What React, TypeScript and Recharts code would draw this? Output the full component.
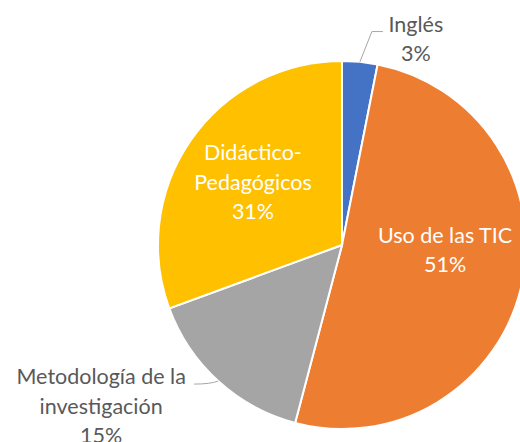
import React from "react";
import { PieChart, Pie, Cell } from "recharts";

const categories = ["Inglés", "Uso de las TIC", "Metodología de la investigación", "Didáctico-Pedagógicos"];
const values = [3.1, 51.0, 15.3, 30.6];
const percentLabels = ["3%", "51%", "15%", "31%"];
const colors = ["#4472C4", "#ED7D31", "#A5A5A5", "#FFC000"];

const data = categories.map((name, i) => ({ name, value: values[i] }));

const RADIAN = Math.PI / 180;
const FONT = "Lato, 'Open Sans', sans-serif";
const FS = 21.5;
const LH = 29.5;

const renderLabel = (props: any) => {
  const { cx, cy, midAngle, outerRadius, index } = props;
  const cos = Math.cos(-midAngle * RADIAN);
  const sin = Math.sin(-midAngle * RADIAN);
  const ex = cx + outerRadius * cos;
  const ey = cy + outerRadius * sin;
  const pct = percentLabels[index];
  if (index === 1) {
    const x = cx + outerRadius * 0.56;
    const y = cy + outerRadius * 0.03;
    return (
      <text x={x} y={y} fill="#fff" textAnchor="middle" fontFamily={FONT} fontSize={FS}>
        <tspan x={x} dy={-LH / 2 + 7}>Uso de las TIC</tspan>
        <tspan x={x} dy={LH}>{pct}</tspan>
      </text>
    );
  }
  if (index === 3) {
    const r = outerRadius * 0.59;
    const x = cx + r * cos;
    const y = cy + r * sin;
    return (
      <text x={x} y={y} fill="#fff" textAnchor="middle" fontFamily={FONT} fontSize={FS}>
        <tspan x={x} dy={-LH + 7}>Didáctico-</tspan>
        <tspan x={x} dy={LH}>Pedagógicos</tspan>
        <tspan x={x} dy={LH}>{pct}</tspan>
      </text>
    );
  }
  if (index === 0) {
    const kx = ex + 12;
    const ky = cy - outerRadius * 1.16;
    const tx = kx + 44;
    return (
      <g>
        <polyline points={`${ex},${ey} ${kx},${ky} ${kx + 11},${ky}`} fill="none" stroke="#A6A6A6" strokeWidth={1} />
        <text x={tx} y={ky} fill="#595959" textAnchor="middle" fontFamily={FONT} fontSize={FS}>
          <tspan x={tx} dy={0}>Inglés</tspan>
          <tspan x={tx} dy={LH}>{pct}</tspan>
        </text>
      </g>
    );
  }
  // index 2
  const lx = ex - 24;
  const ly = ey + 3;
  const tx = lx - 93;
  return (
    <g>
      <path d={`M${ex},${ey} Q${ex - 8},${ly} ${lx},${ly}`} fill="none" stroke="#A6A6A6" strokeWidth={1} />
      <text x={tx} y={ly} fill="#595959" textAnchor="middle" fontFamily={FONT} fontSize={FS}>
        <tspan x={tx} dy={0}>Metodología de la</tspan>
        <tspan x={tx} dy={LH}>investigación</tspan>
        <tspan x={tx} dy={LH}>{pct}</tspan>
      </text>
    </g>
  );
};

export default function App() {
  return (
    <div style={{ position: "absolute", left: 0, top: 0, width: 520, height: 442, background: "#fff" }}>
      <PieChart width={520} height={442} margin={{ top: 0, right: 0, bottom: 0, left: 0 }}>
        <Pie
          data={data}
          dataKey="value"
          nameKey="name"
          cx={342}
          cy={245}
          outerRadius={184}
          startAngle={90}
          endAngle={-270}
          stroke="#fff"
          strokeWidth={2}
          isAnimationActive={false}
          label={renderLabel}
          labelLine={false}
        >
          {data.map((d, i) => (
            <Cell key={d.name} fill={colors[i]} />
          ))}
        </Pie>
      </PieChart>
    </div>
  );
}
